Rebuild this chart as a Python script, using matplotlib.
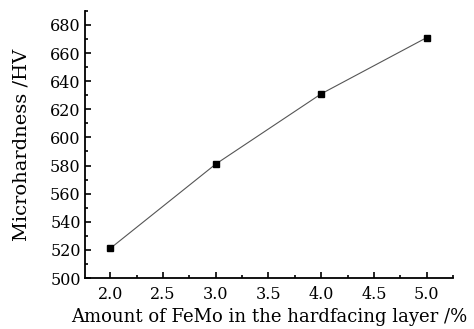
import matplotlib
matplotlib.use("Agg")
import matplotlib.pyplot as plt
from matplotlib.ticker import MultipleLocator, AutoMinorLocator

matplotlib.rcParams['font.family'] = 'DejaVu Serif'
matplotlib.rcParams['font.size'] = 11.5

femo = [2.0, 3.0, 4.0, 5.0]
hardness = [521, 581, 631, 671]

fig = plt.figure(figsize=(4.74, 3.29), dpi=100)
ax = fig.add_axes([0.179, 0.155, 0.777, 0.812])

ax.plot(femo, hardness, color='#555555', linewidth=0.8,
        marker='s', markersize=4.5, markerfacecolor='black', markeredgecolor='black')

ax.set_xlim(1.76, 5.25)
ax.set_ylim(500, 690)
ax.xaxis.set_major_locator(MultipleLocator(0.5))
ax.yaxis.set_major_locator(MultipleLocator(20))
ax.xaxis.set_minor_locator(AutoMinorLocator(2))
ax.yaxis.set_minor_locator(AutoMinorLocator(2))
ax.tick_params(which='both', direction='in', width=1.2)
ax.tick_params(which='major', length=4)
ax.tick_params(which='minor', length=2.5)
ax.tick_params(axis='x', pad=6)
ax.tick_params(axis='y', pad=3)
ax.xaxis.set_major_formatter(matplotlib.ticker.FormatStrFormatter('%.1f'))

for s in ['top', 'right']:
    ax.spines[s].set_visible(False)
for s in ['left', 'bottom']:
    ax.spines[s].set_linewidth(1.3)

ax.set_xlabel('Amount of FeMo in the hardfacing layer /%', fontsize=13, labelpad=3)
ax.set_ylabel('Microhardness /HV', fontsize=14, labelpad=14)

fig.savefig('out.png', dpi=100)
